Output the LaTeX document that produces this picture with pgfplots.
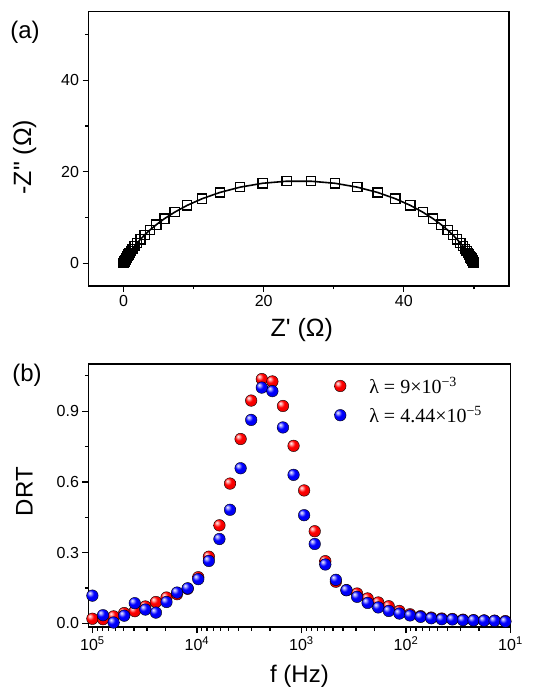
\documentclass[border=0pt]{standalone}
\usepackage{fontspec}
\setmainfont{Liberation Sans}
\newfontfamily\plainsans{Liberation Sans}
\newfontfamily\timesfont{Liberation Serif}
\usepackage{pgfplots}
\pgfplotsset{compat=1.18}
\usepackage{pgfplotstable}
\makeatletter
\pgfdeclareradialshading[tikz@ball]{ball}{\pgfqpoint{-12bp}{12bp}}{%
  color(0bp)=(tikz@ball!5!white);
  color(7bp)=(tikz@ball!45!white);
  color(15bp)=(tikz@ball);
  color(38bp)=(tikz@ball!88!black);
  color(60bp)=(tikz@ball!65!black)}
\makeatother

\pgfplotstableread{
x y
0.00 0.00
0.06 0.17
0.07 0.21
0.08 0.25
0.10 0.30
0.12 0.36
0.15 0.43
0.18 0.52
0.22 0.62
0.26 0.74
0.32 0.89
0.38 1.07
0.47 1.28
0.57 1.53
0.69 1.84
0.85 2.20
1.04 2.62
1.28 3.13
1.57 3.72
1.95 4.42
2.42 5.22
3.00 6.16
3.74 7.22
4.68 8.42
5.85 9.74
7.30 11.15
9.07 12.63
11.21 14.09
13.74 15.46
16.64 16.62
19.84 17.47
23.26 17.92
26.74 17.92
30.16 17.47
33.36 16.62
36.26 15.46
38.79 14.09
40.93 12.63
42.70 11.15
44.15 9.74
45.32 8.42
46.26 7.22
47.00 6.16
47.58 5.22
48.05 4.42
48.43 3.72
48.72 3.13
48.96 2.62
49.15 2.20
49.31 1.84
49.43 1.53
49.53 1.28
49.62 1.07
49.68 0.89
49.74 0.74
49.78 0.62
49.82 0.52
49.85 0.43
49.88 0.36
49.90 0.30
49.92 0.25
49.93 0.21
49.94 0.17
50.00 0.00
}\nyq

\pgfplotstableread{
f red blue
100000 0.020 0.118
79181 0.018 0.035
62697 0.030 0.004
49666 0.044 0.033
39336 0.052 0.086
31153 0.072 0.059
24677 0.091 0.046
19543 0.110 0.091
15481 0.124 0.131
12262 0.147 0.149
9710 0.196 0.188
7690 0.283 0.265
6090 0.416 0.358
4825 0.593 0.482
3821 0.782 0.658
3026 0.945 0.863
2396 1.036 1.000
1898 1.026 0.985
1503 0.922 0.831
1190 0.753 0.630
942.8 0.564 0.459
746.7 0.391 0.337
591.3 0.264 0.250
468.4 0.177 0.185
371.0 0.141 0.141
293.8 0.127 0.113
232.7 0.106 0.087
184.2 0.089 0.068
146.0 0.073 0.053
115.6 0.053 0.042
91.5 0.039 0.034
72.5 0.031 0.028
57.4 0.025 0.022
45.5 0.021 0.018
36.0 0.019 0.017
28.5 0.016 0.014
22.6 0.014 0.013
17.9 0.013 0.012
14.2 0.012 0.011
11.2 0.010 0.008
}\drt

\begin{document}
\begin{tikzpicture}
\useasboundingbox (0pt,0pt) rectangle (535pt,691pt);
\pgfplotsset{
  every axis/.append style={
    scale only axis,
    axis line style={line width=1.5pt},
    tick align=outside, tick pos=left,
    major tick length=6pt, minor tick length=3.5pt,
    tick style={black, line width=1.2pt},
    tick label style={font=\fontsize{16}{19}\selectfont},
    /pgf/number format/assume math mode=true,
  },
}
\node[font=\fontsize{24}{28}\selectfont] at (25pt,658.5pt) {(a)};
\node[font=\fontsize{24}{28}\selectfont] at (27pt,316pt) {(b)};

\begin{axis}[
  at={(88.5pt,405pt)}, anchor=south west,
  width=420.5pt, height=274.3pt,
  xmin=-5, xmax=55, ymin=-5, ymax=55,
  xtick={0,20,40}, ytick={0,20,40},
  minor xtick={10,30,50}, minor ytick={10,30,50},
  xlabel={\plainsans Z' (Ω)}, ylabel={\plainsans -Z" (Ω)},
  every axis x label/.style={at={(axis description cs:0.507,0)}, anchor=base, yshift=-51pt, font=\fontsize{25}{29}\selectfont},
  every axis y label/.style={at={(axis description cs:-0.152,0.47)}, rotate=90, anchor=center, font=\fontsize{25}{29}\selectfont},
]
\addplot[black, line width=1.6pt, mark=none] table[x=x,y=y] {\nyq};
\addplot[black, only marks, mark=square, mark size=4.6pt, mark options={line width=1.3pt}] table[x=x,y=y] {\nyq};
\end{axis}

\begin{axis}[
  at={(88.5pt,64pt)}, anchor=south west,
  width=422pt, height=263pt,
  xmode=log, x dir=reverse,
  xmin=10, xmax=109000, ymin=-0.015, ymax=1.1,
  xtick={10,100,1000,10000,100000},
  xticklabels={10\textsuperscript{1},10\textsuperscript{2},10\textsuperscript{3},10\textsuperscript{4},10\textsuperscript{5}},
  ytick={0,0.3,0.6,0.9}, yticklabels={0.0,0.3,0.6,0.9},
  minor ytick={0.15,0.45,0.75,1.05},
  xlabel={f (Hz)}, ylabel={DRT},
  every axis x label/.style={at={(axis description cs:0.5,0)}, anchor=base, yshift=-55pt, font=\fontsize{24}{28}\selectfont},
  every axis y label/.style={at={(axis description cs:-0.152,0.515)}, rotate=90, anchor=center, font=\fontsize{24}{28}\selectfont},
  legend cell align=left,
  legend image code/.code={\path[draw=none,fill=none] (0pt,-6pt) rectangle (12pt,6pt); \draw[#1] plot coordinates {(6pt,0pt)};},
  legend style={draw=none, fill=none, at={(axis description cs:0.582,0.952)}, anchor=north west,
    inner sep=0pt, row sep=11pt, font=\timesfont\fontsize{20}{23}\selectfont, nodes={inner sep=0pt},
    /tikz/every odd column/.append style={column sep=23pt}},
]
\addplot[only marks, mark=ball, mark size=5.8pt, mark options={ball color=red}]
  table[x=f,y=red] {\drt};
\addlegendentry{λ = 9×10\textsuperscript{−3}}
\addplot[only marks, mark=ball, mark size=5.8pt, mark options={ball color=blue}]
  table[x=f,y=blue] {\drt};
\addlegendentry{λ = 4.44×10\textsuperscript{−5}}
\end{axis}
\end{tikzpicture}
\end{document}
